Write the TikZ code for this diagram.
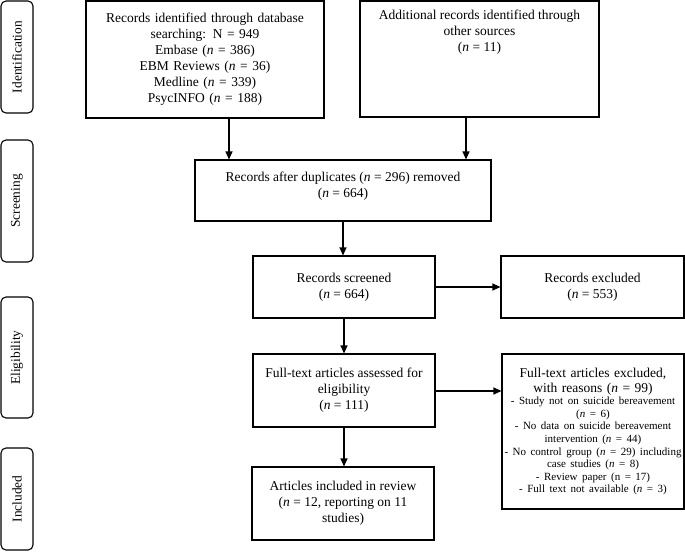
\documentclass[tikz,border=0pt]{standalone}
\usepackage{fontspec}
\setmainfont{Liberation Serif}
\usetikzlibrary{arrows.meta}
\tikzset{
  box/.style={draw=black, line width=1.1pt, rectangle, inner sep=0pt, align=center,
    font=\fontsize{13.5}{16}\selectfont},
  side/.style={draw=black, line width=1.1pt, rounded corners=5pt, inner sep=0pt,
    minimum width=32pt},
  sidetxt/.style={rotate=90, font=\fontsize{13.4}{15}\selectfont, inner sep=0pt},
  arr/.style={line width=1.1pt, -{Triangle[length=8pt,width=7pt]}},
  lbl/.style={inner sep=0pt, align=center, font=\fontsize{13.5}{16}\selectfont}
}
\begin{document}
\begin{tikzpicture}[x=1pt,y=-1pt]
\useasboundingbox (0,0) rectangle (685,552);
% side bars
\node[side, minimum height=112pt] (s1) at (17,57) {};
\node[sidetxt] (s1t) at (s1.center) {Identification};
\node[side, minimum height=122pt] (s2) at (17,201) {};
\node[sidetxt] (s2t) at (s2.center) {Screening};
\node[side, minimum height=121pt] (s3) at (17,357.5) {};
\node[sidetxt] (s3t) at (s3.center) {Eligibility};
\node[side, minimum height=102pt] (s4) at (17,499) {};
\node[sidetxt] (s4t) at (s4.center) {Included};
% boxes
\node[box, minimum width=238pt, minimum height=117pt, text width=230pt] (b1) at (205,59.5)
  {Records identified through database\\ searching: N = 949\\ Embase (\textit{n} = 386)\\
   EBM Reviews (\textit{n} = 36)\\ Medline (\textit{n} = 339)\\ PsycINFO (\textit{n} = 188)};
\node[box, minimum width=239pt, minimum height=116pt] (b2) at (479.5,59) {};
\node[lbl, anchor=north] (b2t) at (479.5,10)
  {Additional records identified through\\ other sources\\ (\textit{n} = 11)};
\node[box, minimum width=296pt, minimum height=61pt] (b3) at (343,190.5) {};
\node[lbl] (b3t) at (343,186) {Records after duplicates (\textit{n} = 296) removed\\ (\textit{n} = 664)};
\node[box, minimum width=182pt, minimum height=62pt] (b4) at (344,287)
  {Records screened\\ (\textit{n} = 664)};
\node[box, minimum width=183pt, minimum height=62pt] (b5) at (592.5,287)
  {Records excluded\\ (\textit{n} = 553)};
\node[box, minimum width=182pt, minimum height=73pt] (b6) at (344,390.5)
  {Full-text articles assessed for\\ eligibility\\ (\textit{n} = 111)};
\node[box, minimum width=182pt, minimum height=155pt, text width=180pt] (b7) at (593,431.5)
  {\centering\fontsize{13.5}{15}\selectfont Full-text articles excluded,\\ with reasons (\textit{n} = 99)\par
   \centering\fontsize{11}{12.6}\selectfont - Study not on suicide bereavement\\ (\textit{n} = 6)\\
   - No data on suicide bereavement\\ intervention (\textit{n} = 44)\\
   - No control group (\textit{n} = 29) including\\ case studies (\textit{n} = 8)\\
   - Review paper (n = 17)\\ - Full text not available (\textit{n} = 3)\par};
\node[box, minimum width=182pt, minimum height=73pt] (b8) at (343,503.5)
  {Articles included in review\\ (\textit{n} = 12, reporting on 11\\ studies)};
% connectors
\coordinate (c1) at (229,0);
\coordinate (c2) at (466,0);
\coordinate (c3) at (0,391);
\draw[arr] (c1 |- b1.south) -- (c1 |- b3.north);
\draw[arr] (c2 |- b2.south) -- (c2 |- b3.north);
\draw[arr] (b3.south) -- (b3.south |- b4.north);
\draw[arr] (b4.east) -- (b4.east -| b5.west);
\draw[arr] (b4.south) -- (b6.north);
\draw[arr] (b6.east |- c3) -- (b7.west |- c3);
\draw[arr] (b6.south) -- (b6.south |- b8.north);
\end{tikzpicture}
\end{document}
